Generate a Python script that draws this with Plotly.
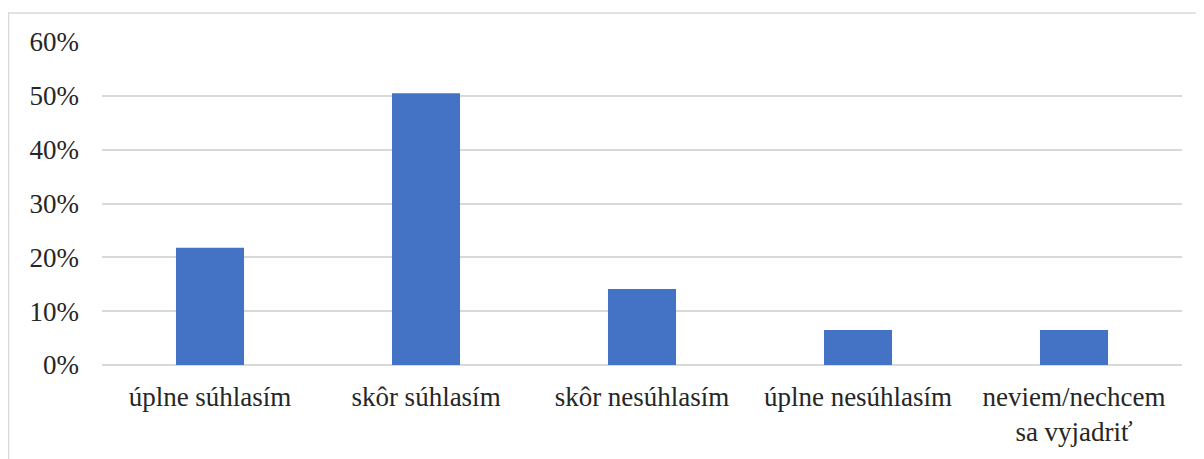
import plotly.graph_objects as go

categories = ["úplne súhlasím", "skôr súhlasím", "skôr nesúhlasím", "úplne nesúhlasím", "neviem/nechcem<br>sa vyjadriť"]
values = [0.218, 0.505, 0.141, 0.065, 0.065]
tick_vals = [0, 0.1, 0.2, 0.3, 0.4, 0.5, 0.6]
tick_text = ["0%", "10%", "20%", "30%", "40%", "50%", "60%"]

# page has 8px body margin, so figure coords = page coords - 8
W, H = 1204, 459
L, R, T, B = 94, 30, 33.5, 102
pw, ph = W - L - R, H - T - B

fig = go.Figure(go.Bar(x=categories, y=values, marker=dict(color="#4472C4", line=dict(width=0))))

def px_x(p):
    return (p - L) / pw

def px_y(p):
    return (H - B - p) / ph

fig.update_layout(
    width=W, height=H,
    margin=dict(l=L, r=R, t=T, b=B, autoexpand=False),
    paper_bgcolor="white", plot_bgcolor="white",
    bargap=0.685,
    showlegend=False,
    font=dict(family="Liberation Serif", size=27, color="#262626"),
    xaxis=dict(showgrid=False, showline=False, zeroline=False, ticks="",
               ticklabelstandoff=13, tickfont=dict(size=27), automargin=False),
    yaxis=dict(range=[0, 0.6], tickvals=tick_vals, ticktext=tick_text,
               showgrid=True, gridcolor="#D9D9D9", gridwidth=1.5,
               zeroline=True, zerolinecolor="#D9D9D9", zerolinewidth=1.5,
               showline=False, ticks="", ticklabelstandoff=22,
               tickfont=dict(size=27), automargin=False),
    shapes=[
        dict(type="path", xref="paper", yref="paper",
             path=f"M {px_x(0.5)} {px_y(480)} L {px_x(0.5)} {px_y(4.5)} L {px_x(1240)} {px_y(4.5)}",
             line=dict(color="#D9D9D9", width=1.5), layer="below"),
    ],
)

fig.write_html("out.html")
